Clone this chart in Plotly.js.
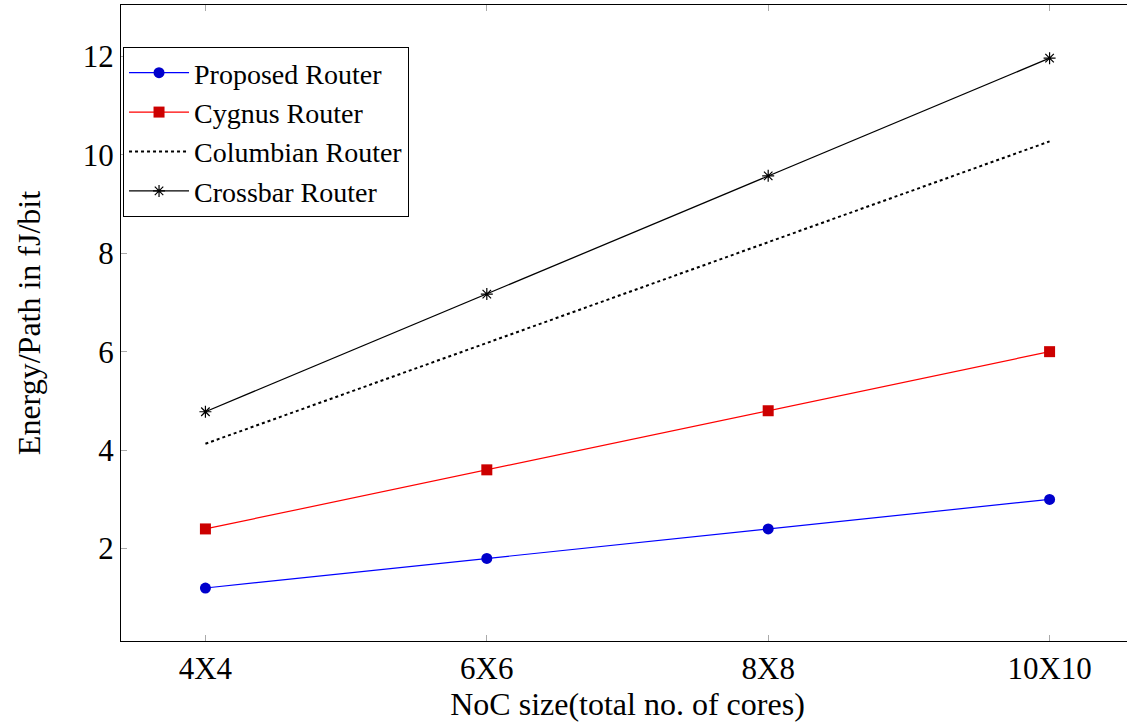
<!DOCTYPE html>
<html>
<head>
<meta charset="utf-8">
<script src="https://cdn.plot.ly/plotly-3.0.1.min.js"></script>
<style>html,body{margin:0;padding:0;overflow:hidden;background:#fff;}#chart{width:1135px;height:724px;}</style>
</head>
<body>
<div id="chart"></div>
<script>
const categories = ["4X4", "6X6", "8X8", "10X10"];
const proposed = [1.2, 1.8, 2.4, 3.0];
const cygnus = [2.4, 3.6, 4.8, 6.0];
const columbian = [4.13, 6.18, 8.22, 10.27];
const crossbar = [4.78, 7.17, 9.57, 11.96];
const yTicks = [2, 4, 6, 8, 10, 12];

const xIdx = categories.map((c, i) => i);
const font = "'Liberation Serif', 'Times New Roman', serif";

const traces = [
  {x: xIdx, y: proposed, name: "Proposed Router", mode: "lines+markers",
   line: {color: "#0000ff", width: 1.2}, marker: {symbol: "circle", size: 11, color: "#0000cc"}},
  {x: xIdx, y: cygnus, name: "Cygnus Router", mode: "lines+markers",
   line: {color: "#ff0000", width: 1.2}, marker: {symbol: "square", size: 11, color: "#cc0000"}},
  {x: xIdx, y: columbian, name: "Columbian Router", mode: "lines",
   line: {color: "#000000", width: 2, dash: "dot"}},
  {x: xIdx, y: crossbar, name: "Crossbar Router", mode: "lines+markers",
   line: {color: "#000000", width: 1.3},
   marker: {symbol: "asterisk-open", size: 10, color: "#000000", line: {color: "#000000", width: 1.2}}}
];

const layout = {
  width: 1135, height: 724,
  margin: {l: 121, r: 1, t: 5, b: 83},
  paper_bgcolor: "#fff", plot_bgcolor: "#fff",
  font: {family: font, size: 32, color: "#000"},
  showlegend: true,
  legend: {x: 0.002, y: 0.934, xanchor: "left", yanchor: "top",
           bordercolor: "#000", borderwidth: 1, bgcolor: "#fff",
           itemwidth: 60,
           font: {family: font, size: 28}, tracegroupgap: 0},
  xaxis: {
    range: [-0.3, 3.3], tickmode: "array", tickvals: xIdx, ticktext: categories,
    showgrid: false, zeroline: false, showline: true, linecolor: "#000", linewidth: 1, mirror: "ticks",
    ticks: "inside", ticklen: 6, tickcolor: "#aaa", tickwidth: 1,
    tickfont: {family: font, size: 31},
    title: {text: "NoC size(total no. of cores)", font: {family: font, size: 32}, standoff: 6}
  },
  yaxis: {
    range: [0.124, 13.04], tickmode: "array", tickvals: yTicks,
    showgrid: false, zeroline: false, showline: true, linecolor: "#000", linewidth: 1, mirror: "ticks",
    ticks: "inside", ticklen: 6, tickcolor: "#aaa", tickwidth: 1,
    tickfont: {family: font, size: 31},
    title: {text: "Energy/Path in fJ/bit", font: {family: font, size: 32}, standoff: 32}
  }
};

Plotly.newPlot("chart", traces, layout, {displayModeBar: false, staticPlot: true});
</script>
</body>
</html>
